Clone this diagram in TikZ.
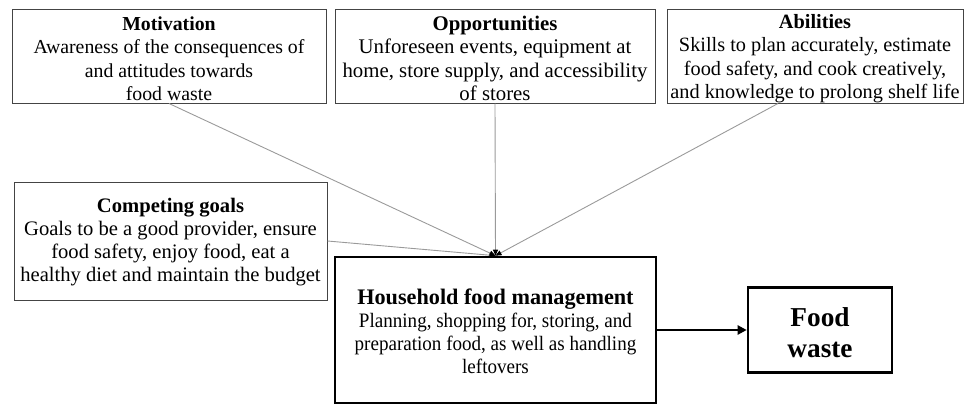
\documentclass[tikz,border=0pt]{standalone}
\usepackage{fontspec}
\setmainfont{Liberation Serif}
\newfontfamily\narrowserif[FakeStretch=0.93]{Liberation Serif}
\usetikzlibrary{arrows.meta}
\definecolor{boxline}{HTML}{444444}
\definecolor{linkline}{HTML}{9A9A9A}
\tikzset{
  factor/.style={draw=boxline, line width=1pt, rectangle, inner sep=0pt},
  factortext/.style={inner sep=0pt, align=center},
  central/.style={draw=black, line width=2.6pt, rectangle, inner sep=0pt,
    align=center},
  outcome/.style={draw=black, line width=2.6pt, rectangle, inner sep=0pt,
    align=center, font=\fontsize{27.3}{31}\selectfont\bfseries},
  link/.style={draw=linkline, line width=0.9pt,
    -{Triangle[length=6pt,width=5pt,color=black]}},
  mainlink/.style={draw=black, line width=2.6pt,
    -{Triangle[length=9pt,width=9pt]}}
}
\begin{document}
\begin{tikzpicture}[x=1pt,y=-1pt]
  \useasboundingbox (0,0) rectangle (964,404);

  % influencing factors along the top
  \node[factor, minimum width=314pt, minimum height=93pt] (mot) at (169,56.5) {};
  \node[factortext, font=\fontsize{19.8}{23.5}\selectfont] (motText)
    at ([yshift=-2pt]mot.center)
    {\textbf{Motivation}\\Awareness of the consequences of\\and attitudes towards\\food waste};

  \node[factor, minimum width=320pt, minimum height=93pt] (opp) at (495,56.5) {};
  \node[factortext, font=\fontsize{20.8}{23.5}\selectfont] (oppText)
    at ([yshift=-2pt]opp.center)
    {\textbf{Opportunities}\\Unforeseen events, equipment at\\home, store supply, and accessibility\\of stores};

  \node[factor, minimum width=296pt, minimum height=93pt] (abl) at (815,56.5) {};
  \node[factortext, font=\fontsize{20.3}{23.5}\selectfont] (ablText)
    at ([yshift=-2pt]abl.center)
    {\textbf{Abilities}\\Skills to plan accurately, estimate\\food safety, and cook creatively,\\and knowledge to prolong shelf life};

  % competing goals on the left
  \node[factor, minimum width=313pt, minimum height=118pt] (cg) at (170.5,241) {};
  \node[factortext, font=\fontsize{20.6}{23}\selectfont] (cgText)
    at ([yshift=-1pt]cg.center)
    {\textbf{Competing goals}\\Goals to be a good provider, ensure\\food safety, enjoy food, eat a\\healthy diet and maintain the budget};

  % household food management and its outcome
  \node[central, minimum width=321pt, minimum height=146pt] (hh) at (495.5,330) {};
  \node[factortext, font=\fontsize{20.5}{23}\selectfont] (hhText)
    at ([yshift=-1.5pt]hh.center)
    {{\fontsize{22.2}{23}\selectfont\bfseries Household food management}\\
     {\narrowserif Planning, shopping for, storing, and}\\
     {\narrowserif preparation food, as well as handling}\\
     {\narrowserif leftovers}};

  \node[outcome, minimum width=144pt, minimum height=85pt] (fw) at (820,330) {};
  \node[factortext, font=\fontsize{27.3}{31}\selectfont\bfseries] (fwText)
    at ([yshift=-2.5pt]fw.center) {Food\\waste};

  % links
  \draw[link] (mot.south) -- (hh.north);
  \draw[link] (opp.south) -- (hh.north);
  \draw[link] ([xshift=-37pt]abl.south) -- (hh.north);
  \draw[link] (cg.east) -- (hh.north);
  \draw[mainlink] (hh.east) -- (fw.west);
\end{tikzpicture}
\end{document}
